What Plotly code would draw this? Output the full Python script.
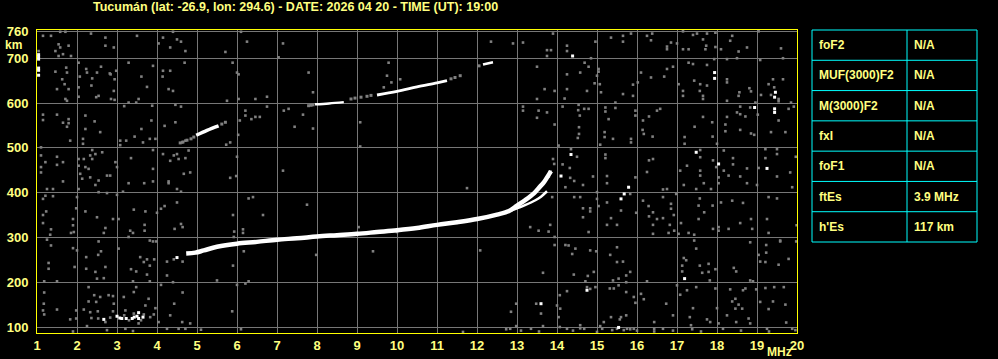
import plotly.graph_objects as go

# ---------------- data (frequency MHz, virtual height km) ----------------
title_text = "Tucumán (lat: -26.9, lon: 294.6) - DATE: 2026 04 20 - TIME (UT): 19:00"

x_ticks = list(range(1, 21))
y_ticks = [100, 200, 300, 400, 500, 600, 700, 760]

# main F-layer trace (o-mode)
f_trace_mhz = [4.73, 4.96, 5.17, 5.5, 6.0, 6.5, 7.0, 7.5, 8.0, 8.5, 9.0, 9.5, 10.0, 10.5,
               11.0, 11.5, 12.0, 12.5, 12.8, 13.0, 13.2, 13.43, 13.54, 13.68, 13.78, 13.85]
f_trace_km = [264, 266, 271, 279, 286, 290, 295, 298, 302, 305, 308, 312, 316, 321,
              328, 334, 341, 351, 359, 371, 383, 399, 410, 424, 438, 448]
# x-mode branch
x_trace_mhz = [12.8, 13.0, 13.2, 13.46, 13.6, 13.75]
x_trace_km = [358, 365, 372, 383, 391, 403]

# second hop segments (white parts)
hop2_a_mhz = [4.98, 5.25, 5.54]
hop2_a_km = [528, 539, 549]
hop2_c_mhz = [7.95, 8.3, 8.67]
hop2_c_km = [597, 599, 602]
hop2_d_mhz = [9.5, 10.0, 10.5, 11.0, 11.25]
hop2_d_km = [618, 626, 636, 645, 650]
hop2_e_mhz = [12.15, 12.4]
hop2_e_km = [686, 691]
hop2_gray = [(4.58, 511), (4.65, 513), (4.75, 517), (4.85, 520), (4.92, 524), (5.62, 553),
             (5.71, 557), (7.79, 594), (7.85, 595), (7.9, 596), (8.85, 609), (8.95, 611),
             (9.1, 613), (9.25, 615), (9.35, 617), (11.35, 654), (11.45, 657), (11.58, 661),
             (12.05, 683)]

# sporadic E trace
es_trace = [(2.67, 117), (3.0, 124), (3.07, 120), (3.12, 119), (3.23, 119), (3.38, 119),
            (3.43, 122), (3.5, 124), (3.54, 132), (3.54, 119), (3.65, 122)]

# strong (white) isolated echoes
white_dots = [(14.39, 705), (14.35, 485), (13.83, 446), (13.79, 437), (14.1, 437), (17.94, 668),
              (17.94, 655), (19.46, 624), (19.44, 613), (19.44, 587), (19.44, 579), (18.94, 590),
              (19.25, 454), (18.04, 464), (17.48, 490), (13.6, 152), (15.79, 412), (15.68, 397),
              (15.6, 386), (14.75, 182), (15.54, 99), (17.19, 208), (4.5, 255),
              (1.04, 708), (1.04, 703), (1.04, 698), (1.04, 678), (1.04, 673), (1.04, 662)]

# background noise echoes (grey)
noise_upper_left = [
    (1.15, 750), (1.35, 750), (1.58, 759), (1.71, 759), (2.35, 755), (2.71, 746), (3.5, 750),
    (4.15, 746), (4.4, 759), (4.5, 742), (4.6, 737), (4.04, 733), (4.33, 724), (4.71, 716),
    (2.92, 724), (2.71, 728), (1.54, 731), (1.58, 724), (1.79, 728), (1.46, 716), (1.65, 709),
    (1.85, 705), (1.54, 705), (1.04, 716), (5.71, 714), (6.1, 759), (6.25, 737), (7.15, 733),
    (7.04, 702), (5.89, 690), (6.0, 668), (6.04, 664), (7.79, 668), (7.9, 624), (6.75, 614),
    (6.46, 609), (6.04, 609), (5.75, 605), (9.79, 690), (9.75, 661), (10.08, 653), (9.86, 646),
    (9.67, 635), (9.08, 557), (9.08, 503), (7.9, 543), (7.44, 547), (7.65, 574), (7.17, 583),
    (7.29, 587), (6.75, 592), (6.21, 583), (6.21, 572), (6.46, 569), (6.57, 569), (6.36, 564),
    (6.07, 561), (6.03, 529), (5.83, 512), (5.73, 507), (6.0, 480), (5.98, 437), (5.83, 433),
    (7.15, 449), (2.04, 690), (2.23, 676), (2.25, 668), (2.5, 668), (2.6, 681), (2.82, 666),
    (2.84, 664), (2.98, 672), (2.94, 653), (2.38, 655), (2.36, 639), (2.07, 659), (2.04, 635),
    (1.73, 679), (1.75, 668), (1.46, 670), (1.63, 653), (1.69, 642), (1.5, 631), (1.79, 631),
    (2.92, 627), (2.85, 609), (2.94, 607), (2.54, 616), (2.48, 613), (2.04, 614), (1.71, 609),
    (1.75, 605), (3.29, 690), (3.61, 659), (3.9, 683), (4.15, 672), (4.33, 672), (4.14, 659),
    (4.69, 690), (3.75, 636), (3.54, 609), (3.48, 601), (3.29, 601), (4.29, 631), (4.4, 627),
    (3.18, 593), (3.88, 594), (4.46, 596), (4.6, 592), (1.15, 574), (1.15, 562), (1.5, 574),
    (1.65, 556), (1.75, 547), (1.79, 564), (1.79, 555), (2.21, 572), (2.44, 559), (2.21, 542),
    (2.58, 535), (1.83, 516), (2.15, 520), (2.15, 509), (3.08, 516), (3.23, 516), (3.44, 525),
    (3.65, 512), (3.61, 542), (3.08, 506), (3.82, 520), (3.96, 520), (3.86, 561), (4.19, 549),
    (4.46, 557), (4.63, 512), (4.71, 516), (1.1, 501), (1.1, 483), (1.1, 457), (1.1, 445),
    (1.21, 468), (1.5, 480), (1.5, 462), (1.65, 468), (2.04, 475), (2.04, 460), (2.17, 475),
    (2.21, 457), (2.33, 483), (2.38, 475), (2.46, 486), (2.63, 490), (2.38, 495), (2.96, 468),
    (3.0, 457), (2.29, 453), (2.33, 434), (2.08, 442), (2.13, 431), (2.75, 438), (2.83, 438),
    (2.54, 427), (3.35, 477), (3.9, 495), (3.9, 453), (3.9, 425), (4.15, 486), (4.33, 471),
    (4.42, 483), (4.54, 475), (4.5, 486), (4.71, 477), (4.83, 445), (4.79, 494), (4.29, 425),
    (4.67, 442), (1.65, 425)]

noise_upper_right = [
    (12.35, 737), (12.9, 733), (13.15, 735), (13.9, 755), (13.75, 718), (13.85, 718), (13.75, 705),
    (14.25, 728), (14.25, 716), (14.85, 700), (14.96, 737), (15.35, 746), (15.65, 750),
    (15.65, 737), (15.85, 755), (16.25, 750), (16.38, 755), (16.35, 740), (16.75, 720),
    (16.75, 726), (16.85, 735), (17.0, 733), (17.15, 760), (17.15, 720), (17.29, 720),
    (17.4, 752), (17.5, 755), (17.65, 742), (17.75, 755), (17.73, 728), (17.71, 720),
    (17.96, 757), (17.96, 725), (18.1, 720), (18.38, 750), (18.33, 739), (18.54, 715),
    (18.75, 724), (19.04, 760), (19.6, 722), (19.65, 700), (19.08, 696), (18.5, 700),
    (18.25, 698), (17.93, 698), (17.75, 685), (17.4, 687), (17.29, 690), (16.9, 681),
    (16.75, 676), (16.68, 659), (16.35, 657), (16.1, 668), (16.02, 646), (15.9, 641),
    (15.9, 616), (15.65, 620), (15.46, 601), (15.1, 624), (15.04, 676), (15.04, 670),
    (15.0, 661), (15.07, 642), (14.94, 644), (14.79, 681), (14.69, 690), (14.58, 668),
    (14.75, 627), (14.25, 664), (14.25, 631), (13.94, 627), (13.69, 631), (13.5, 681),
    (13.5, 609), (14.19, 610), (14.54, 596), (14.57, 572), (14.68, 587), (14.79, 587),
    (14.53, 584), (14.55, 546), (14.55, 531), (14.52, 522), (14.14, 592), (13.75, 579),
    (13.54, 583), (13.15, 592), (13.15, 583), (13.5, 567), (13.94, 552), (14.04, 505),
    (14.35, 497), (14.5, 480), (13.9, 475), (13.93, 464), (14.14, 463), (14.32, 455),
    (14.33, 433), (14.43, 426), (14.9, 436), (15.21, 485), (15.21, 477), (15.25, 437),
    (15.08, 507), (15.19, 535), (15.19, 524), (15.4, 520), (15.29, 564), (15.46, 589),
    (15.21, 590), (15.21, 581), (15.96, 583), (15.96, 572), (16.15, 561), (16.3, 570),
    (16.5, 583), (16.58, 587), (16.14, 540), (16.17, 531), (16.39, 525), (15.85, 520),
    (15.85, 512), (15.96, 434), (16.25, 446), (16.3, 472), (16.4, 475), (17.04, 642),
    (17.15, 627), (17.15, 616), (17.43, 650), (17.58, 642), (17.57, 627), (17.65, 609),
    (17.65, 616), (17.75, 639), (18.25, 653), (18.25, 646), (18.56, 624), (18.54, 616),
    (18.25, 605), (18.81, 633), (18.85, 626), (19.1, 618), (19.29, 642), (19.4, 653),
    (19.43, 635), (19.54, 609), (19.54, 604), (19.35, 618), (19.65, 653), (19.85, 601),
    (19.92, 592), (19.79, 587), (18.83, 590), (18.58, 592), (18.5, 579), (18.71, 570),
    (18.58, 575), (18.96, 601), (19.02, 574), (19.54, 561), (19.71, 535), (19.35, 535),
    (18.93, 529), (18.85, 532), (18.58, 540), (18.21, 552), (18.21, 537), (18.25, 569),
    (17.88, 557), (17.89, 525), (17.65, 569), (17.44, 547), (17.19, 524), (17.19, 509),
    (18.0, 509), (19.21, 497), (19.5, 497), (19.5, 486), (19.21, 477), (19.04, 455),
    (19.5, 436), (19.83, 445), (19.97, 480), (18.75, 454), (18.58, 436), (18.4, 463),
    (18.4, 477), (18.29, 438), (18.17, 449), (17.98, 457), (18.04, 434), (17.9, 472),
    (17.58, 449), (17.58, 438), (17.58, 479), (17.58, 495), (18.17, 494), (17.08, 449),
    (17.25, 460)]

noise_lower_left = [
    (1.25, 408), (1.4, 408), (1.4, 392), (1.15, 386), (1.21, 393), (2.0, 390), (2.04, 408),
    (2.54, 401), (2.46, 417), (2.75, 399), (3.0, 395), (3.29, 421), (3.15, 402), (3.68, 421),
    (4.29, 421), (4.5, 408), (4.6, 402), (4.5, 378), (4.19, 370), (4.1, 364), (4.0, 355),
    (3.71, 358), (3.42, 362), (3.04, 341), (2.9, 341), (2.5, 345), (2.21, 358), (1.9, 341),
    (1.98, 365), (1.23, 358), (1.15, 350), (1.15, 332), (1.35, 318), (1.33, 306), (1.25, 295),
    (1.35, 282), (1.9, 327), (1.92, 312), (1.85, 310), (2.71, 321), (2.67, 310), (3.33, 315),
    (3.4, 310), (3.29, 301), (3.69, 328), (3.69, 315), (3.82, 293), (3.9, 291), (3.98, 291),
    (4.44, 319), (4.6, 330), (4.64, 323), (5.9, 350), (6.65, 350), (7.75, 373), (6.29, 387),
    (6.4, 390), (6.15, 318), (6.15, 310), (5.93, 313), (5.92, 301), (6.17, 269), (5.9, 237),
    (5.5, 204), (6.21, 197), (6.29, 202), (6.0, 194), (7.98, 261), (9.4, 269), (9.04, 323),
    (10.0, 312), (2.0, 271), (1.9, 276), (2.54, 291), (2.6, 269), (2.53, 261), (2.23, 256),
    (1.29, 243), (1.29, 230), (1.94, 234), (2.23, 230), (2.46, 223), (2.71, 234), (2.5, 208),
    (2.67, 209), (3.04, 275), (3.35, 229), (3.48, 224), (3.58, 256), (3.67, 245), (3.75, 251),
    (3.82, 237), (3.93, 251), (3.75, 217), (3.82, 202), (4.25, 246), (4.25, 215), (4.42, 251),
    (4.64, 246), (4.4, 200), (4.1, 194), (3.4, 202), (1.18, 202), (1.5, 202), (1.18, 177),
    (2.29, 189), (2.43, 171), (2.58, 167), (2.79, 171), (2.9, 169), (2.92, 152), (3.17, 167),
    (3.42, 178), (3.48, 189), (3.79, 163), (3.71, 148), (3.96, 142), (3.92, 128), (3.83, 122),
    (3.67, 128), (3.42, 130), (3.21, 137), (3.18, 126), (2.9, 135), (2.52, 135), (2.33, 133),
    (2.17, 139), (1.98, 119), (1.98, 137), (1.83, 117), (1.5, 139), (1.18, 128), (1.15, 137),
    (1.17, 152), (2.48, 156), (2.29, 157), (2.53, 119), (2.36, 120), (2.25, 102), (2.71, 111),
    (2.75, 93), (3.21, 96), (3.54, 108), (4.25, 96), (4.54, 96), (4.71, 96), (4.83, 108),
    (4.63, 111), (4.33, 126), (4.43, 152), (4.64, 177), (4.04, 111), (6.1, 95), (5.88, 135),
    (2.83, 121), (3.3, 115), (3.6, 115), (1.9, 90), (3.4, 91), (5.1, 94)]

noise_lower_right = [
    (11.75, 410), (12.08, 271), (13.33, 323), (13.54, 315), (13.83, 328), (13.79, 313),
    (13.94, 301), (13.94, 283), (13.65, 221), (12.85, 134), (12.98, 152), (13.48, 152),
    (13.6, 130), (13.65, 102), (13.35, 96), (12.98, 102), (12.73, 95), (12.83, 96), (11.65, 89),
    (13.88, 390), (14.21, 412), (14.43, 390), (14.58, 390), (14.65, 417), (14.65, 365),
    (14.65, 345), (14.83, 365), (14.83, 358), (15.04, 370), (15.0, 386), (15.0, 401),
    (15.25, 421), (15.25, 378), (15.25, 328), (15.5, 328), (15.35, 343), (15.6, 360),
    (15.83, 397), (15.98, 355), (16.15, 382), (16.29, 370), (16.4, 356), (16.3, 347),
    (16.4, 328), (16.4, 308), (16.5, 341), (16.65, 343), (16.65, 407), (16.75, 408),
    (16.85, 375), (16.85, 364), (16.92, 350), (16.82, 328), (16.79, 310), (16.93, 315),
    (17.04, 308), (17.1, 332), (17.29, 310), (17.43, 306), (17.43, 293), (17.54, 341),
    (17.54, 371), (17.57, 387), (17.68, 356), (17.89, 371), (17.9, 319), (18.04, 323),
    (18.04, 315), (18.1, 378), (18.29, 319), (18.38, 382), (18.65, 377), (18.58, 332),
    (18.85, 341), (18.83, 289), (19.25, 341), (19.29, 390), (19.5, 387), (19.29, 310),
    (19.58, 291), (19.98, 291), (19.99, 327), (19.88, 412), (19.0, 417), (18.75, 421),
    (18.04, 421), (17.85, 408), (17.67, 421), (17.48, 408), (17.17, 417), (16.98, 397),
    (16.65, 390), (14.79, 312), (14.29, 282), (14.21, 283), (14.46, 275), (14.38, 263),
    (14.83, 271), (14.98, 269), (15.33, 261), (15.5, 278), (15.65, 246), (15.73, 215),
    (15.73, 200), (15.54, 208), (15.4, 204), (15.32, 186), (15.54, 193), (15.42, 186),
    (15.73, 178), (15.83, 223), (15.5, 245), (14.92, 223), (14.77, 214), (14.71, 202),
    (14.75, 189), (14.83, 185), (14.96, 189), (14.42, 217), (14.25, 180), (14.07, 171),
    (14.0, 148), (14.08, 141), (14.04, 122), (14.07, 100), (14.25, 96), (14.58, 104),
    (14.58, 97), (14.68, 96), (15.0, 89), (15.08, 102), (15.13, 96), (15.17, 111),
    (15.35, 122), (15.38, 93), (15.5, 96), (15.57, 117), (15.6, 122), (15.67, 93),
    (15.75, 96), (15.83, 95), (15.92, 96), (15.73, 126), (15.96, 154), (15.92, 167),
    (16.1, 174), (16.17, 162), (16.25, 202), (16.43, 111), (16.43, 96), (16.43, 90),
    (16.65, 96), (16.73, 152), (16.9, 126), (17.0, 193), (17.08, 172), (17.13, 237),
    (17.13, 224), (17.17, 254), (17.23, 249), (17.25, 182), (17.32, 122), (17.35, 104),
    (17.38, 95), (17.4, 142), (17.48, 189), (17.48, 275), (17.57, 237), (17.63, 221),
    (17.79, 241), (17.79, 223), (17.82, 204), (17.96, 229), (17.96, 186), (17.75, 117),
    (17.83, 111), (18.0, 142), (18.04, 108), (18.15, 96), (18.25, 126), (18.38, 157),
    (18.46, 163), (18.46, 141), (18.54, 150), (18.48, 111), (18.63, 141), (18.65, 182),
    (18.71, 186), (18.83, 204), (18.9, 202), (18.98, 184), (19.04, 261), (19.08, 246),
    (19.23, 266), (19.21, 245), (19.23, 283), (19.58, 293), (19.54, 239), (19.79, 252),
    (19.08, 156), (19.21, 187), (19.29, 140), (19.4, 157), (19.43, 189), (19.67, 189),
    (19.71, 150), (19.73, 110), (19.88, 96), (19.96, 93), (19.25, 96), (18.83, 108),
    (18.79, 119), (18.42, 232), (18.48, 224), (18.33, 184), (18.88, 319), (13.1, 92),
    (13.55, 90), (14.4, 92), (16.0, 92), (16.9, 92), (17.6, 90), (18.6, 92), (19.3, 90)]

table_labels = ["foF2", "MUF(3000)F2", "M(3000)F2", "fxI", "foF1", "ftEs", "h'Es"]
table_values = ["N/A", "N/A", "N/A", "N/A", "N/A", "3.9 MHz", "117 km"]

# ---------------- figure ----------------
W, H = 998, 359
PL, PR, PT, PB = 37, 797, 30, 333   # plot area in pixels


def px_x(px):
    return (px - PL) / (PR - PL)


def px_y(py):
    return (PB - py) / (PB - PT)


GREY = "#808080"
TXT = "#ffff80"
FONT = "Liberation Sans"

fig = go.Figure()


def add_dots(pairs, color, size):
    fig.add_trace(go.Scatter(
        x=[p[0] for p in pairs], y=[p[1] for p in pairs], mode="markers",
        marker=dict(symbol="square", size=size, color=color, line=dict(width=0)),
        hoverinfo="skip"))


add_dots(noise_upper_left, GREY, 2.6)
add_dots(noise_upper_right, GREY, 2.6)
add_dots(noise_lower_left, GREY, 2.6)
add_dots(noise_lower_right, GREY, 2.6)
add_dots(hop2_gray, GREY, 3)

for fx, hy, w in [(f_trace_mhz, f_trace_km, 4.5), (x_trace_mhz, x_trace_km, 2.5),
                  (hop2_a_mhz, hop2_a_km, 3.5), (hop2_c_mhz, hop2_c_km, 2.5),
                  (hop2_d_mhz, hop2_d_km, 3), (hop2_e_mhz, hop2_e_km, 2.5)]:
    fig.add_trace(go.Scatter(x=fx, y=hy, mode="lines", line_shape="spline",
                             line=dict(color="white", width=w), hoverinfo="skip"))

add_dots(es_trace, "white", 3)
add_dots(white_dots, "white", 3)

# title
fig.add_annotation(x=px_x(295), y=px_y(7), xref="paper", yref="paper", text=title_text,
                   showarrow=False, font=dict(family=FONT, size=12.5, color=TXT, weight="bold"),
                   xanchor="center", yanchor="middle")
fig.add_annotation(x=px_x(13.5), y=px_y(45), xref="paper", yref="paper", text="km",
                   showarrow=False, font=dict(family=FONT, size=12, color=TXT, weight="bold"),
                   xanchor="center", yanchor="middle")
fig.add_annotation(x=px_x(779), y=px_y(351.5), xref="paper", yref="paper", text="MHz",
                   showarrow=False, font=dict(family=FONT, size=12, color=TXT, weight="bold"),
                   xanchor="center", yanchor="middle")

# parameter table
TX0, TX1, TXM, TY0, TY1 = 812, 977, 907, 30, 242
CYAN = "#00ffff"
fig.add_shape(type="rect", xref="paper", yref="paper", x0=px_x(TX0), x1=px_x(TX1),
              y0=px_y(TY0), y1=px_y(TY1), line=dict(color=CYAN, width=1))
fig.add_shape(type="line", xref="paper", yref="paper", x0=px_x(TXM), x1=px_x(TXM),
              y0=px_y(TY0), y1=px_y(TY1), line=dict(color=CYAN, width=1))
n = len(table_labels)
rh = (TY1 - TY0) / n
for i in range(n):
    if i > 0:
        yy = TY0 + i * rh
        fig.add_shape(type="line", xref="paper", yref="paper", x0=px_x(TX0), x1=px_x(TX1),
                      y0=px_y(yy), y1=px_y(yy), line=dict(color=CYAN, width=1))
    yc = TY0 + (i + 0.5) * rh
    fig.add_annotation(x=px_x(TX0 + 5), y=px_y(yc), xref="paper", yref="paper",
                       text=table_labels[i], showarrow=False, xanchor="left", yanchor="middle",
                       font=dict(family=FONT, size=12, color=TXT, weight="bold"))
    fig.add_annotation(x=px_x(TXM + 5), y=px_y(yc), xref="paper", yref="paper",
                       text=table_values[i], showarrow=False, xanchor="left", yanchor="middle",
                       font=dict(family=FONT, size=12, color=TXT, weight="bold"))

fig.update_layout(
    width=W, height=H, margin=dict(l=PL, r=W - PR, t=PT, b=H - PB, pad=0, autoexpand=False),
    paper_bgcolor="black", plot_bgcolor="black", showlegend=False,
    xaxis=dict(range=[1, 20], tickvals=x_ticks, ticktext=[str(v) for v in x_ticks],
               showgrid=True, gridcolor="#777777", gridwidth=1, zeroline=False,
               showline=True, linecolor="#ffff00", linewidth=1, mirror=True, ticks="",
               tickfont=dict(family=FONT, size=13, color=TXT, weight="bold"),
               ticklabelstandoff=0, automargin=False),
    yaxis=dict(range=[86.6, 763], tickvals=y_ticks, ticktext=[str(v) for v in y_ticks],
               showgrid=True, gridcolor="#777777", gridwidth=1, zeroline=False,
               showline=True, linecolor="#ffff00", linewidth=1, mirror=True, ticks="",
               tickfont=dict(family=FONT, size=13, color=TXT, weight="bold"),
               ticklabelstandoff=5, automargin=False),
)

fig.write_html("out.html")
